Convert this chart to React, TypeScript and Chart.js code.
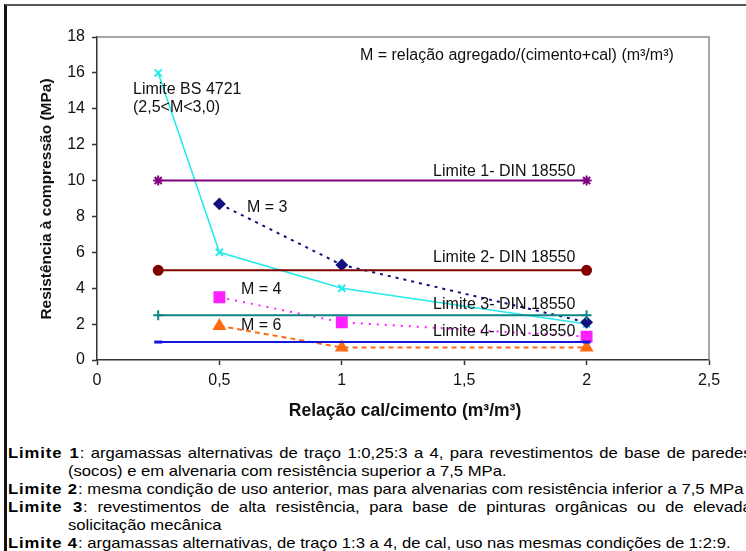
import React, { useEffect, useRef } from "react";
import { Chart, registerables } from "chart.js";
Chart.register(...registerables);

// ---- data ----
const xTickValues = [0, 0.5, 1, 1.5, 2, 2.5];
const yTickValues = [0, 2, 4, 6, 8, 10, 12, 14, 16, 18];

const bsX = [0.25, 0.5, 1, 2];
const bsY = [16, 6, 4, 2];
const m3X = [0.5, 1, 2];
const m3Y = [8.7, 5.3, 2.1];
const m4X = [0.5, 1, 2];
const m4Y = [3.5, 2.1, 1.3];
const m6X = [0.5, 1, 2];
const m6Y = [1.9, 0.7, 0.7];
const limX = [0.25, 2];
const lim1Y = [10, 10];
const lim2Y = [5, 5];
const lim3Y = [2.5, 2.5];
const lim4Y = [1, 1];

const annotationTexts = [
  "Limite BS 4721",
  "(2,5<M<3,0)",
  "M = 3",
  "M = 4",
  "M = 6",
  "Limite 1- DIN 18550",
  "Limite 2- DIN 18550",
  "Limite 3- DIN 18550",
  "Limite 4- DIN 18550",
  "M = relação agregado/(cimento+cal) (m³/m³)",
];
const annotationX = [0.147, 0.147, 0.613, 0.588, 0.588, 1.373, 1.373, 1.373, 1.373, 1.074];
const annotationY = [15.05, 14.05, 8.47, 3.9, 1.9, 10.48, 5.69, 3.07, 1.56, 16.95];

const xTitle = "Relação cal/cimento (m³/m³)";
const yTitle = "Resistência à compressão (MPa)";

const notes = [
  { bold: "Limite 1", text: ": argamassas alternativas de traço 1:0,25:3 a 4, para revestimentos de base de paredes", indent: false, justify: true },
  { bold: "", text: "(socos) e em alvenaria com resistência superior a 7,5 MPa.", indent: true, justify: false },
  { bold: "Limite 2", text: ": mesma condição de uso anterior, mas para alvenarias com resistência inferior a 7,5 MPa", indent: false, justify: false },
  { bold: "Limite 3", text: ": revestimentos  de alta resistência, para base de pinturas orgânicas ou de elevada", indent: false, justify: true },
  { bold: "", text: "solicitação mecânica", indent: true, justify: false },
  { bold: "Limite 4", text: ": argamassas alternativas, de traço 1:3 a 4, de cal, uso nas mesmas condições de 1:2:9.", indent: false, justify: false },
];

const FONT = '"Liberation Sans", Arial, sans-serif';
const NOTE_SCALE = 1.11;

const pts = (xs: number[], ys: number[]) => xs.map((x, i) => ({ x, y: ys[i] }));

const extras = {
  id: "extras",
  afterDraw(chart: any) {
    const { ctx, chartArea, scales } = chart;
    ctx.save();
    // top / right frame of plot area
    ctx.strokeStyle = "#8a8a8a";
    ctx.lineWidth = 1.5;
    ctx.beginPath();
    ctx.moveTo(chartArea.left, chartArea.top);
    ctx.lineTo(chartArea.right, chartArea.top);
    ctx.lineTo(chartArea.right, chartArea.bottom);
    ctx.stroke();

    // annotations
    ctx.fillStyle = "#111";
    ctx.font = `16px ${FONT}`;
    ctx.textAlign = "left";
    ctx.textBaseline = "middle";
    annotationTexts.forEach((t, i) => {
      ctx.fillText(t, scales.x.getPixelForValue(annotationX[i]), scales.y.getPixelForValue(annotationY[i]));
    });

    // axis titles
    ctx.font = `bold 17.5px ${FONT}`;
    ctx.textAlign = "center";
    ctx.fillText(xTitle, 405, 411);
    ctx.font = `bold 15.5px ${FONT}`;
    ctx.save();
    ctx.translate(47, 199);
    ctx.rotate(-Math.PI / 2);
    ctx.fillText(yTitle, 0, 0);
    ctx.restore();
    ctx.restore();
  },
};

function ChartBox() {
  const ref = useRef<HTMLCanvasElement>(null);
  useEffect(() => {
    if (!ref.current) return;
    const chart = new Chart(ref.current, {
      type: "scatter",
      data: {
        datasets: [
          {
            label: "Limite 1",
            data: pts(limX, lim1Y),
            showLine: true,
            borderColor: "#800080",
            backgroundColor: "#800080",
            borderWidth: 2,
            pointStyle: "star",
            pointRadius: 5,
            pointBorderWidth: 2,
          },
          {
            label: "Limite 2",
            data: pts(limX, lim2Y),
            showLine: true,
            borderColor: "#800000",
            backgroundColor: "#800000",
            borderWidth: 2,
            pointStyle: "circle",
            pointRadius: 4.5,
          },
          {
            label: "Limite 3",
            data: pts(limX, lim3Y),
            showLine: true,
            borderColor: "#108585",
            backgroundColor: "#108585",
            borderWidth: 2,
            pointStyle: "cross",
            pointRadius: 5,
            pointBorderWidth: 2,
          },
          {
            label: "Limite 4",
            data: pts(limX, lim4Y),
            showLine: true,
            borderColor: "#1515e0",
            backgroundColor: "#1515e0",
            borderWidth: 2,
            pointStyle: "line",
            pointRadius: 4,
            pointBorderWidth: 3,
          },
          {
            label: "M = 6",
            data: pts(m6X, m6Y),
            showLine: true,
            borderColor: "#ff6a10",
            backgroundColor: "#ff6a10",
            borderWidth: 2,
            borderDash: [5, 4],
            pointStyle: "triangle",
            pointRadius: 6,
          },
          {
            label: "M = 4",
            data: pts(m4X, m4Y),
            showLine: true,
            borderColor: "#ff20ff",
            backgroundColor: "#ff20ff",
            borderWidth: 2,
            borderDash: [2, 6],
            pointStyle: "rect",
            pointRadius: 7,
          },
          {
            label: "M = 3",
            data: pts(m3X, m3Y),
            showLine: true,
            borderColor: "#101080",
            backgroundColor: "#101080",
            borderWidth: 2,
            borderDash: [3, 5],
            pointStyle: "rectRot",
            pointRadius: 5,
          },
          {
            label: "Limite BS 4721",
            data: pts(bsX, bsY),
            showLine: true,
            borderColor: "#25eaea",
            backgroundColor: "#25eaea",
            borderWidth: 1.5,
            pointStyle: "crossRot",
            pointRadius: 5,
            pointBorderWidth: 2,
          },
        ],
      },
      options: {
        animation: false,
        responsive: false,
        devicePixelRatio: 1,
        layout: { padding: { top: 37, right: 37, left: 0, bottom: 0 } },
        plugins: { legend: { display: false }, tooltip: { enabled: false } },
        scales: {
          x: {
            type: "linear",
            min: 0,
            max: 2.5,
            afterFit: (s: any) => {
              s.height = 80;
            },
            afterBuildTicks: (s: any) => {
              s.ticks = xTickValues.map((v) => ({ value: v }));
            },
            ticks: {
              color: "#111",
              font: { family: FONT, size: 16 },
              padding: 6,
              maxRotation: 0,
              callback: (v: any) => String(v).replace(".", ","),
            },
            grid: { drawOnChartArea: false, drawTicks: true, tickLength: 5, color: "#333", tickWidth: 1.5 },
            border: { color: "#333", width: 1.5 },
          },
          y: {
            type: "linear",
            min: 0,
            max: 18,
            afterFit: (s: any) => {
              s.width = 97;
            },
            afterBuildTicks: (s: any) => {
              s.ticks = yTickValues.map((v) => ({ value: v }));
            },
            ticks: {
              color: "#111",
              font: { family: FONT, size: 16 },
              padding: 7,
            },
            grid: { drawOnChartArea: false, drawTicks: true, tickLength: 5, color: "#333", tickWidth: 1.5 },
            border: { color: "#333", width: 1.5 },
          },
        },
      },
      plugins: [extras],
    });
    return () => chart.destroy();
  }, []);
  return <canvas ref={ref} width={746} height={440} style={{ position: "absolute", left: 0, top: 0, width: 746, height: 440 }} />;
}

export default function App() {
  return (
    <div style={{ position: "absolute", left: 0, top: 0, width: 746, height: 551, overflow: "hidden", background: "#fff" }}>
      <div style={{ position: "absolute", left: 4, top: 4, width: 800, height: 600, borderLeft: "3px solid #111", borderTop: "2px solid #555" }} />
      <ChartBox />
      <div
        style={{
          position: "absolute",
          left: 8,
          top: 444,
          width: 670,
          fontFamily: FONT,
          fontSize: 15,
          lineHeight: "18px",
          color: "#000",
          transform: `scaleX(${NOTE_SCALE})`,
          transformOrigin: "0 0",
        }}
      >
        {notes.map((n, i) => (
          <div
            key={i}
            style={{
              whiteSpace: n.justify ? "normal" : "nowrap",
              paddingLeft: n.indent ? 54 : 0,
              textAlign: n.justify ? "justify" : "left",
              textAlignLast: n.justify ? "justify" : "auto",
              height: 18,
            }}
          >
            {n.bold ? <b style={{ letterSpacing: 0.8 }}>{n.bold}</b> : null}
            {n.text}
          </div>
        ))}
      </div>
    </div>
  );
}
